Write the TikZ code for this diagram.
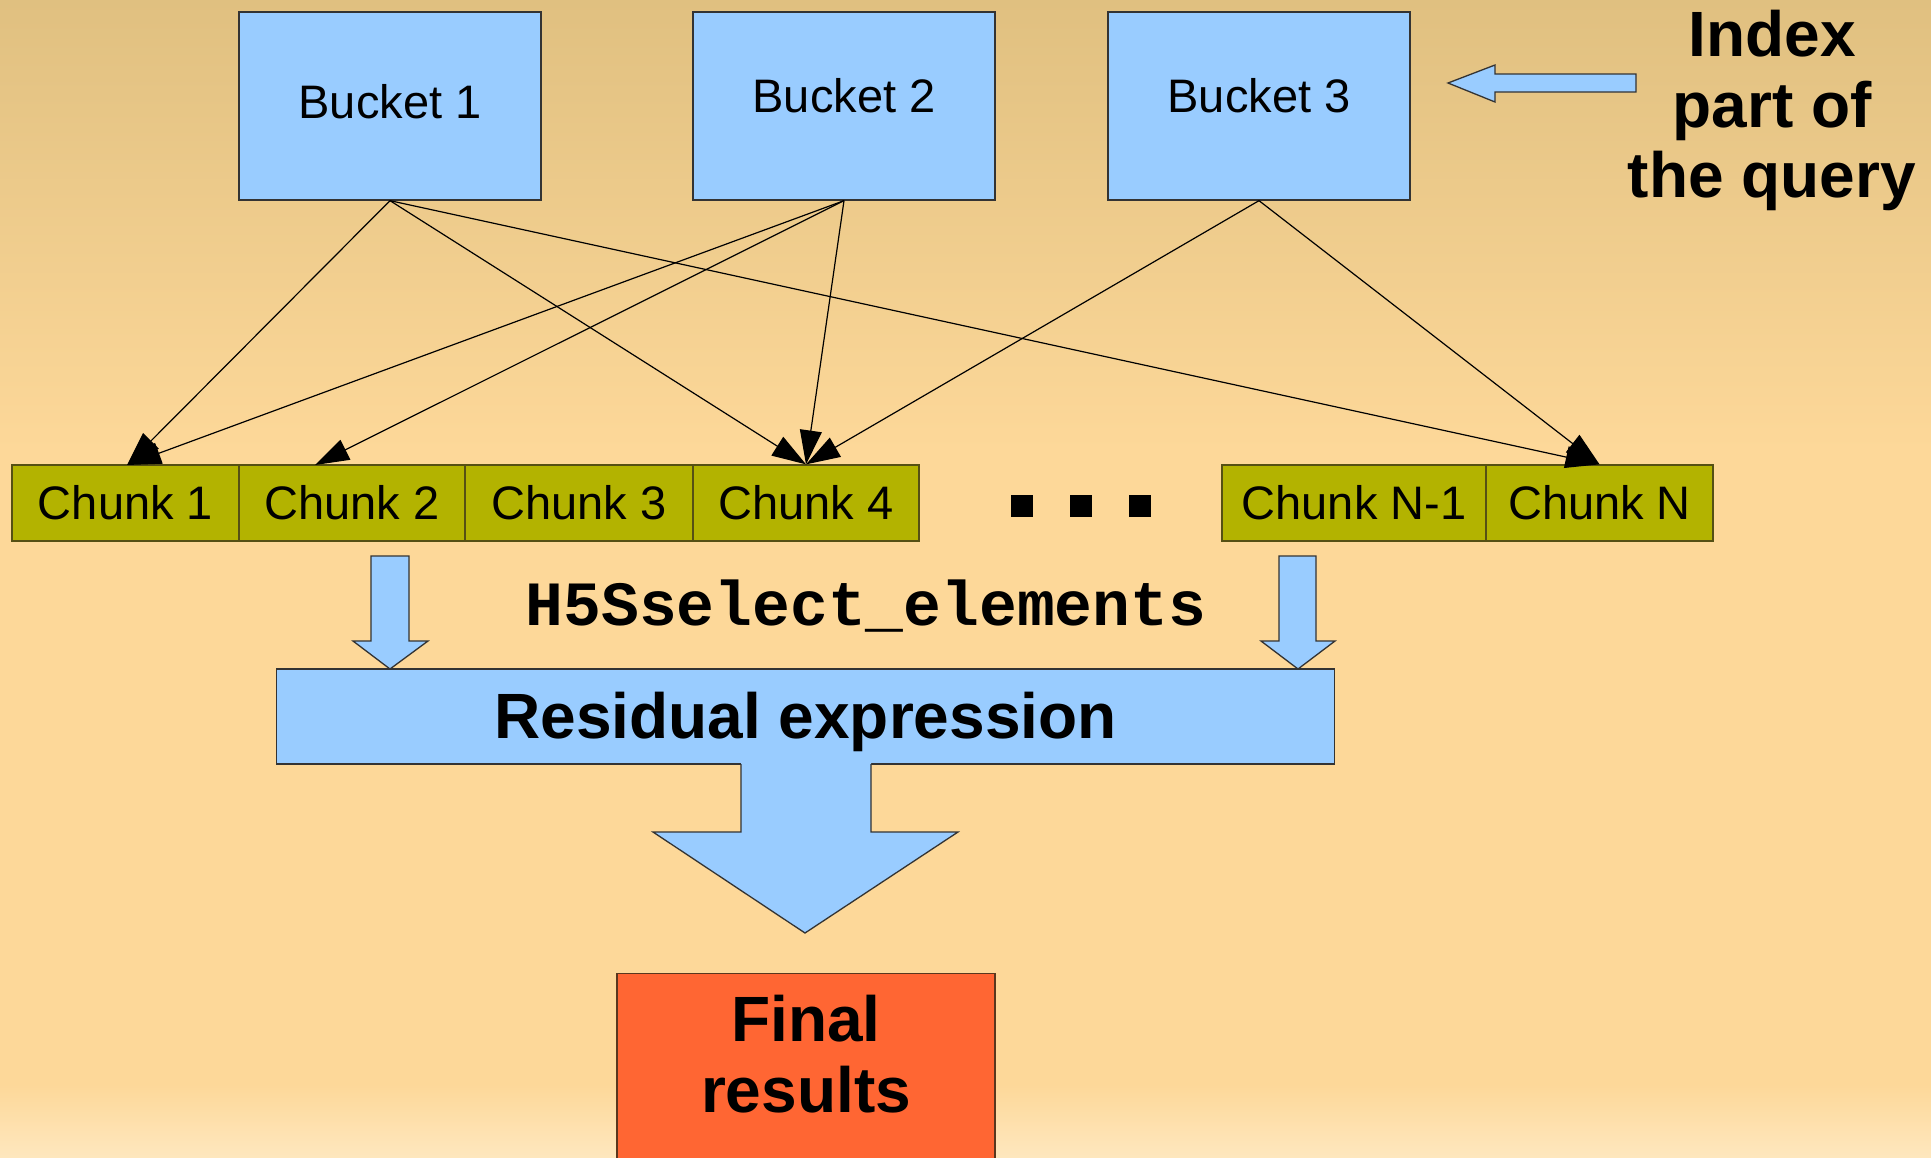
\documentclass[tikz,border=0pt]{standalone}
\usepackage{fontspec}
\setmainfont{Liberation Sans}
\setmonofont{Liberation Mono}
\usetikzlibrary{arrows.meta,calc}

\definecolor{bgtop}{RGB}{224,192,128}
\definecolor{bgmid}{RGB}{253,216,153}
\definecolor{bgbot}{RGB}{254,231,190}
\definecolor{skyfill}{RGB}{153,204,255}
\definecolor{olivefill}{RGB}{179,179,0}
\definecolor{olivedraw}{RGB}{85,80,20}
\definecolor{orangefill}{RGB}{255,102,51}
\definecolor{orangedraw}{RGB}{90,55,30}
\definecolor{edge}{RGB}{51,51,51}

\begin{document}
\begin{tikzpicture}[x=1pt,y=-1pt,
  bucket/.style={draw=edge, fill=skyfill, line width=1.3pt, minimum width=302pt,
    minimum height=188pt, inner sep=0pt, font=\fontsize{47}{56}\selectfont},
  chunk/.style={draw=olivedraw, fill=olivefill, line width=1.3pt, minimum height=76pt,
    inner sep=0pt, font=\fontsize{47}{56}\selectfont},
  link/.style={line width=1.2pt, -{Triangle[length=34pt,width=22pt]}},
  blockarrow/.style={draw=edge, fill=skyfill, line width=1.3pt, line join=miter},
  bigtext/.style={font=\fontsize{64}{70.5}\selectfont\bfseries, align=center, inner sep=0pt}
]
\useasboundingbox (0,0) rectangle (1931,1157);

% background gradient
\shade[top color=bgtop, bottom color=bgmid] (0,0) rectangle (1931,451);
\fill[bgmid] (0,450) rectangle (1931,1086);
\shade[top color=bgmid, bottom color=bgbot] (0,1085) rectangle (1931,1157);

% index buckets
\node[bucket] (b1) at (390,106) {\raisebox{4pt}[\height][\depth]{Bucket 1}};
\node[bucket] (b2) at (844,106) {\raisebox{10pt}[\height][\depth]{Bucket 2}};
\node[bucket] (b3) at (1259,106) {\raisebox{10pt}[\height][\depth]{Bucket 3}};

% query label with its arrow
\node[bigtext, anchor=north] (idx) at (1772,10) {Index\\part of\\the query};
\draw[blockarrow] (1636,74) -- (1495,74) -- (1495,65) -- (1448,83) -- (1495,102)
  -- (1495,92) -- (1636,92) -- cycle;

% chunk row
\node[chunk, minimum width=227pt] (c1) at (125.5,503) {Chunk 1};
\node[chunk, minimum width=226pt] (c2) at (352,503) {Chunk 2};
\node[chunk, minimum width=228pt] (c3) at (579,503) {Chunk 3};
\node[chunk, minimum width=226pt] (c4) at (806,503) {Chunk 4};
\node[chunk, minimum width=264pt] (cn1) at (1354,503) {Chunk N-1};
\node[chunk, minimum width=227pt] (cn) at (1599.5,503) {Chunk N};

% ellipsis squares
\fill (1011,495) rectangle (1033,517);
\fill (1070,495) rectangle (1092,517);
\fill (1129,495) rectangle (1151,517);

% bucket-to-chunk links
\coordinate (t1) at (127,465);
\coordinate (t2) at (315,465);
\draw[link] (b1.south) -- (t1);
\draw[link] (b1.south) -- (c4.north);
\draw[link] (b1.south) -- (cn.north);
\draw[link] (b2.south) -- (t1);
\draw[link] (b2.south) -- (t2);
\draw[link] (b2.south) -- (c4.north);
\draw[link] (b3.south) -- (c4.north);
\draw[link] (b3.south) -- (cn.north);

% selection step
\node[anchor=base, inner sep=0pt, font=\fontsize{63}{70}\selectfont\ttfamily\bfseries]
  (sel) at (866,625) {H5Sselect\_elements};
\draw[blockarrow] (371,556) -- (409,556) -- (409,641) -- (428,641) -- (390,669)
  -- (353,641) -- (371,641) -- cycle;
\draw[blockarrow] (1279,556) -- (1316,556) -- (1316,641) -- (1335,641) -- (1298,669)
  -- (1261,641) -- (1279,641) -- cycle;

% residual expression with its outlet arrow
\node[draw=edge, fill=skyfill, line width=1.3pt, minimum width=1058pt, minimum height=95pt,
  inner sep=0pt, font=\fontsize{64}{70}\selectfont\bfseries]
  (res) at (805.5,716.5) {\raisebox{-5pt}[\height][\depth]{Residual expression}};
\fill[skyfill] (741,762) -- (741,832) -- (653,832) -- (805,933) -- (958,832)
  -- (871,832) -- (871,762) -- cycle;
\draw[edge, line width=1.3pt, line join=miter] (741,764) -- (741,832) -- (653,832)
  -- (805,933) -- (958,832) -- (871,832) -- (871,764);

% final results
\node[draw=orangedraw, fill=orangefill, line width=1.3pt, minimum width=378pt,
  minimum height=215pt, anchor=north, inner sep=0pt] (final) at (806,973) {};
\node[bigtext, anchor=north] (finaltext) at (806,995) {Final\\results};
\end{tikzpicture}
\end{document}
